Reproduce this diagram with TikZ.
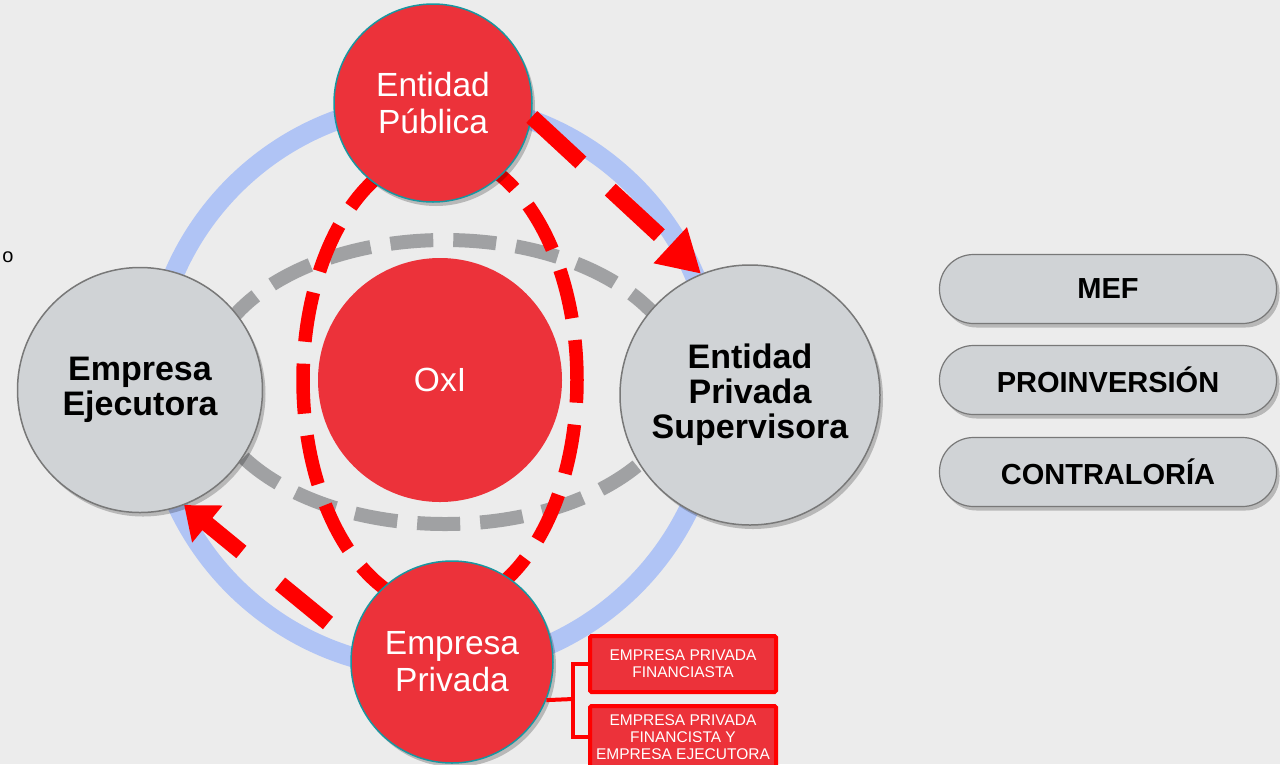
\documentclass[tikz,border=0pt]{standalone}
\usepackage{fontspec}
\setmainfont{Liberation Sans}
\usetikzlibrary{shadows,arrows.meta}
\definecolor{bg}{RGB}{236,236,236}
\definecolor{ringc}{RGB}{176,196,245}
\definecolor{redc}{RGB}{236,50,58}
\definecolor{tealc}{RGB}{25,150,160}
\definecolor{grayc}{RGB}{208,211,214}
\definecolor{grayline}{RGB}{120,120,120}
\definecolor{dashgray}{RGB}{160,161,163}
\definecolor{purered}{RGB}{255,0,0}
\tikzset{
  shad/.style={drop shadow={shadow xshift=3pt,shadow yshift=-4pt,opacity=0.22,fill=black}},
  redcirc/.style={circle,fill=redc,draw=tealc,line width=1.5pt,text=white,align=center,
    font=\fontsize{33.5}{37}\selectfont,shad},
  graycirc/.style={circle,fill=grayc,draw=grayline,line width=1.5pt,text=black,align=center,
    font=\bfseries\fontsize{34}{35}\selectfont,shad},
  sidebox/.style={rectangle,rounded corners=34pt,minimum width=337pt,minimum height=69pt,
    fill=grayc,draw=grayline,line width=1.2pt,font=\bfseries\fontsize{29}{30}\selectfont,shad},
  redbox/.style={rectangle,fill=redc,draw=purered,line width=4pt,rounded corners=1.5pt,
    minimum width=186pt,text=white,align=center,font=\fontsize{15.5}{17}\selectfont,inner sep=1pt},
  arrowline/.style={purered,line width=16pt},
  bracket/.style={purered,line width=4pt}
}
\begin{document}
\begin{tikzpicture}[x=1pt,y=-1pt]
\fill[bg] (0,0) rectangle (1280,764);
\useasboundingbox (0,0) rectangle (1280,764);

% blue ring
\draw[ringc,line width=20pt] (434,386) circle (283pt);
% gray dashed ellipse
\draw[dashgray,line width=14pt,dash pattern=on 43pt off 20pt] (445,382) ellipse [x radius=238pt,y radius=142pt];
% red dashed ellipse
\draw[purered,line width=13.5pt,dash pattern=on 50pt off 22pt,dash phase=10pt] (440,380) ellipse [x radius=137pt,y radius=228pt];

% circles
\node[graycirc,minimum size=245pt] (ee) at (140,390) {Empresa\\Ejecutora};
\node[graycirc,minimum size=260pt] (eps) at (750,395) {Entidad\\Privada\\Supervisora};
\node[circle,fill=redc,minimum size=244pt,text=white,font=\fontsize{33.5}{37}\selectfont] (oxi) at (440,380) {OxI};
\node[redcirc,minimum size=198pt] (ep) at (433,103) {Entidad\\Pública};
\node[redcirc,minimum size=202pt] (epv) at (452,662) {Empresa\\Privada};

% arrows
\draw[arrowline,dash pattern=on 67pt off 40pt,-{Triangle[length=42pt,width=46pt]}] (ep.-8) -- (eps.112);
\coordinate (b0) at (328,623);
\draw[arrowline,dash pattern=on 62pt off 50pt,-{Triangle[length=30pt,width=46pt]}] (b0) -- (ee.-69);

% side boxes
\node[sidebox] (mef) at (1108,289) {MEF};
\node[sidebox] (pro) at (1108,380) {PROINVERSIÓN};
\node[sidebox] (con) at (1108,472) {CONTRALORÍA};

% red small boxes
\node[redbox,minimum height=56pt] (b1) at (683,664) {EMPRESA PRIVADA\\FINANCIASTA};
\node[redbox,minimum height=62pt] (b2) at (683,737) {EMPRESA PRIVADA\\FINANCISTA Y\\EMPRESA EJECUTORA};
\coordinate (bj) at (573,699);
\draw[bracket] (epv.-22) -- (bj);
\draw[bracket] (bj) |- (b1.west);
\draw[bracket] (bj) |- (b2.west);

% stray text
\node[font=\fontsize{20}{22}\selectfont,inner sep=0pt] (o) at (8,257) {o};
\end{tikzpicture}
\end{document}
